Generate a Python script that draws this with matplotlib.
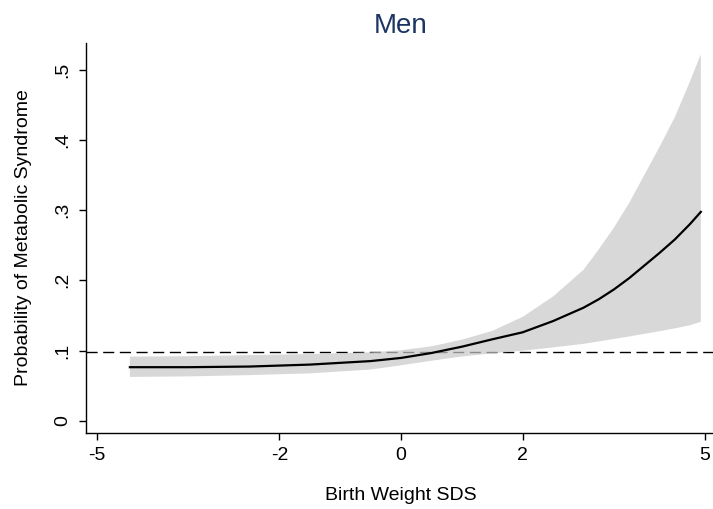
import matplotlib
matplotlib.use("Agg")
import matplotlib.pyplot as plt
import numpy as np

plt.rcParams['font.family'] = ['Liberation Sans', 'DejaVu Sans']

# Data
birth_weight_sds = [-4.46, -3.5, -2.5, -1.5, -0.5, 0.0, 0.5, 1.0, 1.5, 2.0, 2.5, 3.0, 3.25,
                    3.5, 3.75, 4.0, 4.25, 4.5, 4.75, 4.93]
prob = [0.0763, 0.0763, 0.0772, 0.0800, 0.0850, 0.0895, 0.0965, 0.1055, 0.1160, 0.1260,
        0.1420, 0.1610, 0.1730, 0.1870, 0.2030, 0.2210, 0.2390, 0.2580, 0.2800, 0.2975]
ci_upper = [0.0914, 0.0920, 0.0935, 0.0950, 0.0975, 0.1005, 0.1060, 0.1155, 0.1280, 0.1480,
            0.1770, 0.2150, 0.2440, 0.2750, 0.3100, 0.3500, 0.3900, 0.4320, 0.4830, 0.5220]
ci_lower = [0.0624, 0.0632, 0.0650, 0.0675, 0.0730, 0.0790, 0.0855, 0.0915, 0.0960, 0.0998,
            0.1045, 0.1095, 0.1130, 0.1165, 0.1200, 0.1238, 0.1275, 0.1315, 0.1360, 0.1410]
reference_prob = 0.0986
x_ticks = [-5, -2, 0, 2, 5]
y_ticks = [0, 0.1, 0.2, 0.3, 0.4, 0.5]
y_ticklabels = ['0', '.1', '.2', '.3', '.4', '.5']

W, H = 713, 509
fig = plt.figure(figsize=(W / 100, H / 100), dpi=100)
ax = fig.add_axes([85.5 / W, 1 - 432.7 / H, (W - 85.5) / W, (432.7 - 43) / H])

ax.axhline(reference_prob, color='black', lw=1.0, dashes=(8, 4), zorder=1)
ax.fill_between(birth_weight_sds, ci_lower, ci_upper, facecolor='#c8c8c8', alpha=0.7,
                edgecolor='none', zorder=2)
ax.plot(birth_weight_sds, prob, color='black', lw=1.6, zorder=3)

ax.set_xlim(-5.19, 5.13)
ax.set_ylim(-0.017, 0.538)

ax.set_xticks(x_ticks)
ax.set_xticklabels([str(t) for t in x_ticks])
ax.set_yticks(y_ticks)
ax.set_yticklabels(y_ticklabels, rotation=90, va='center')

for s in ['top', 'right']:
    ax.spines[s].set_visible(False)
for s in ['left', 'bottom']:
    ax.spines[s].set_linewidth(1.0)
ax.tick_params(axis='both', direction='out', length=5, width=1.0, labelsize=14, pad=5)

fig.text(401 / W, 1 - 495 / H, 'Birth Weight SDS', ha='center', va='center', fontsize=14)
fig.text(24 / W, 1 - 238 / H, 'Probability of Metabolic Syndrome', ha='center', va='center',
         rotation=90, fontsize=14)
fig.text(401 / W, 1 - 26 / H, 'Men', ha='center', va='center', fontsize=20, color='#1c3563')

fig.savefig('out.png', dpi=100)
